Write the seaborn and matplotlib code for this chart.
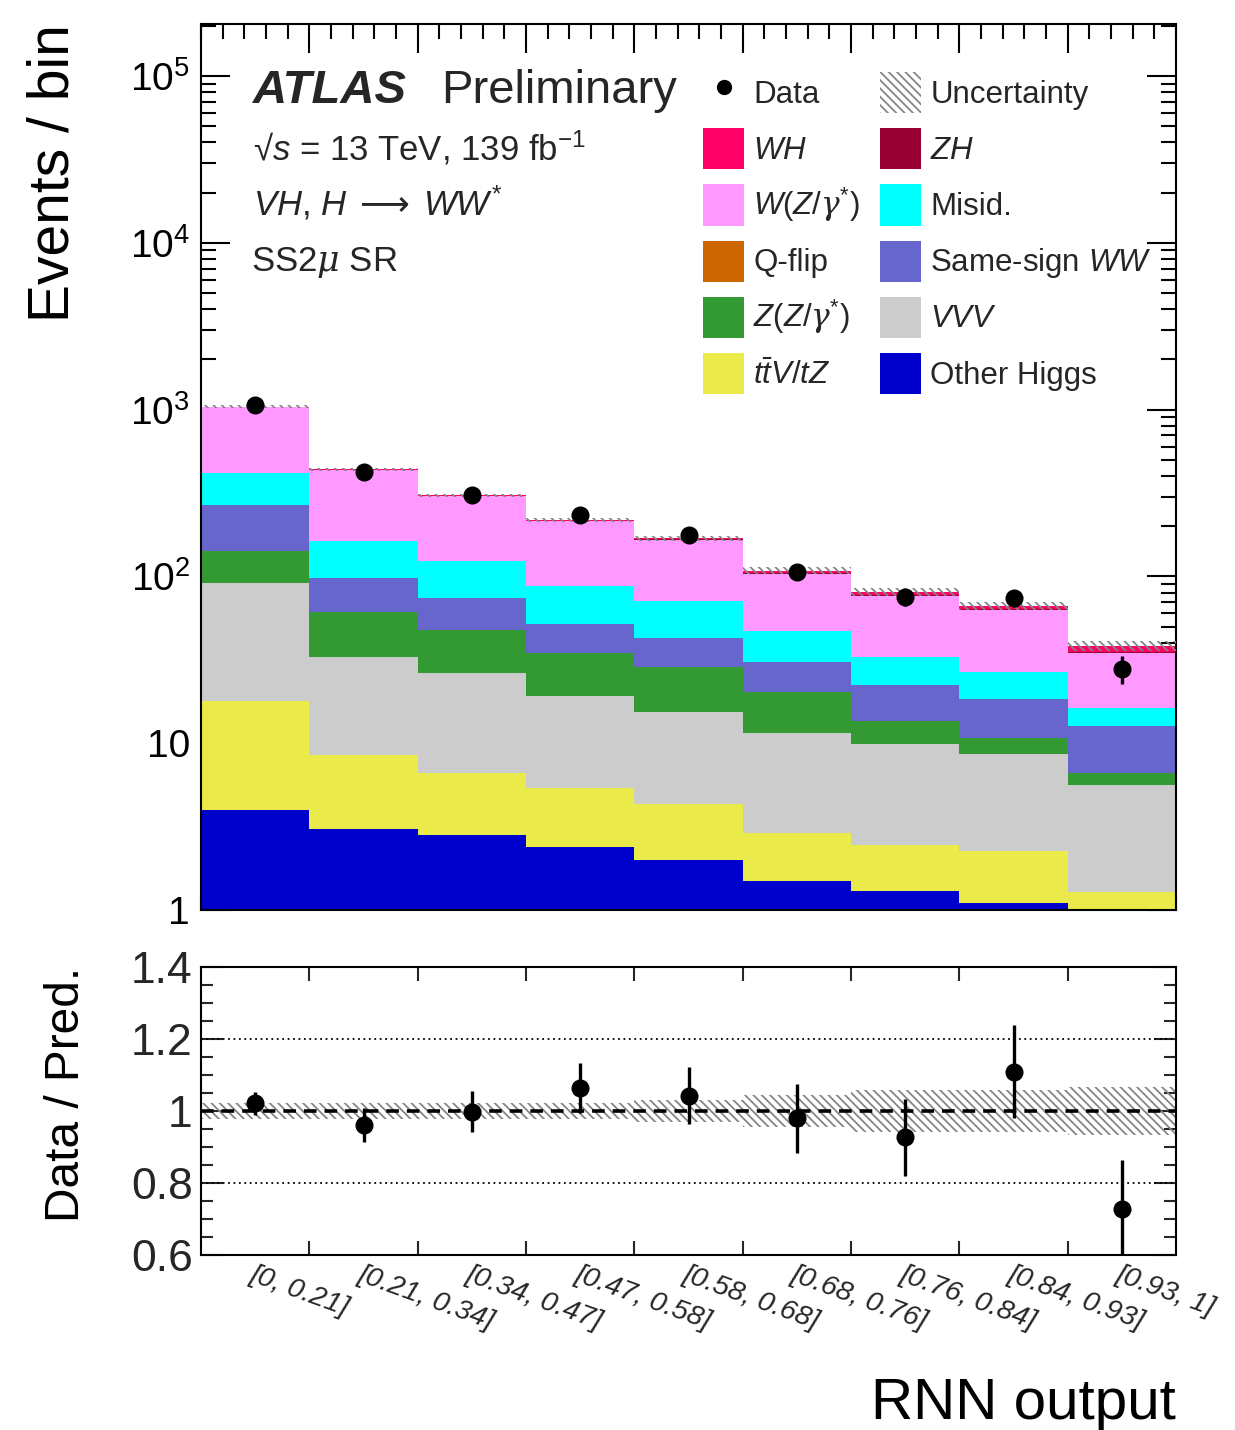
import numpy as np
import pandas as pd
import matplotlib
matplotlib.use("Agg")
import matplotlib.pyplot as plt
from matplotlib.patches import Patch
from matplotlib.lines import Line2D
from matplotlib.ticker import FixedLocator, LogLocator, NullFormatter, FuncFormatter, MultipleLocator
import seaborn as sns

# ---- binning of the RNN output (equal-width display bins) ----
bin_labels = ["[0, 0.21]", "[0.21, 0.34]", "[0.34, 0.47]", "[0.47, 0.58]", "[0.58, 0.68]",
              "[0.68, 0.76]", "[0.76, 0.84]", "[0.84, 0.93]", "[0.93, 1]"]

# ---- expected events per bin for each process ----
other_higgs = [4.0, 3.07, 2.80, 2.38, 1.99, 1.49, 1.30, 1.10, 0.60]
ttv_tz      = [13.9, 5.43, 3.80, 3.03, 2.33, 1.42, 1.14, 1.16, 0.68]
vvv         = [73.4, 24.2, 19.8, 13.9, 11.1, 8.56, 7.41, 6.35, 4.34]
z_zgamma    = [50.7, 28.5, 21.3, 15.3, 13.3, 8.93, 3.74, 2.09, 1.04]
q_flip      = [0.0, 0.0, 0.0, 0.0, 0.0, 0.0, 0.0, 0.0, 0.0]
ss_ww       = [126.0, 36.6, 26.5, 17.2, 14.0, 10.1, 8.7, 7.79, 6.07]
misid       = [149.0, 65.2, 49.5, 35.8, 28.5, 16.6, 10.4, 8.1, 3.46]
w_zgamma    = [620.0, 271.5, 179.7, 127.2, 94.8, 56.3, 43.9, 36.3, 18.5]
zh          = [1.0, 0.8, 0.7, 0.6, 0.5, 0.8, 0.9, 0.8, 0.6]
wh          = [3.0, 2.5, 2.5, 2.6, 2.3, 4.0, 3.4, 3.0, 3.2]

# ---- observed events and relative total uncertainty on the prediction ----
data_counts = [1063, 421, 306, 232, 176, 106, 75, 74, 28]
rel_unc     = [0.022, 0.023, 0.023, 0.023, 0.030, 0.045, 0.058, 0.058, 0.067]

# ---- process definitions (top of stack first) ----
processes = [
    ("$WH$", wh, "#ff0066"),
    ("$ZH$", zh, "#990033"),
    ("$W(Z/\\mathsf{\\gamma}^{*})$", w_zgamma, "#ff99ff"),
    ("Misid.", misid, "#00ffff"),
    ("Q-flip", q_flip, "#cc6600"),
    ("Same-sign $WW$", ss_ww, "#6666cc"),
    ("$Z(Z/\\mathsf{\\gamma}^{*})$", z_zgamma, "#339933"),
    ("$VVV$", vvv, "#cccccc"),
    ("$t\\bar{t}V/tZ$", ttv_tz, "#eaea4a"),
    ("Other Higgs", other_higgs, "#0000cc"),
]

nbins = len(bin_labels)
edges = np.arange(nbins + 1)
centers = edges[:-1] + 0.5

rows = []
for name, vals, _ in processes:
    for c, v in zip(centers, vals):
        rows.append({"bin": c, "events": v, "process": name})
df = pd.DataFrame(rows)
hue_order = [p[0] for p in processes]
palette = {p[0]: p[2] for p in processes}

total = np.sum([np.array(p[1]) for p in processes], axis=0)
data = np.array(data_counts, dtype=float)
unc = np.array(rel_unc)
ratio = data / total
ratio_err = np.sqrt(data) / total

# ---- style ----
sns.set_theme(style="ticks")
plt.rcParams["font.family"] = ["Liberation Sans", "DejaVu Sans"]
plt.rcParams["mathtext.fontset"] = "custom"
plt.rcParams["mathtext.rm"] = "Liberation Sans"
plt.rcParams["mathtext.it"] = "Liberation Sans:italic"
plt.rcParams["mathtext.bf"] = "Liberation Sans:bold"
plt.rcParams["mathtext.sf"] = "DejaVu Serif:italic"   # Greek letters in TeX-like italic
plt.rcParams["mathtext.cal"] = "DejaVu Sans"          # long arrow
plt.rcParams["hatch.linewidth"] = 1.3
plt.rcParams["axes.linewidth"] = 1.5

HATCH = "\\\\\\\\"
HATCH_COLOR = "#858585"

fig = plt.figure(figsize=(12.35, 14.3), dpi=100)
ax = fig.add_axes([0.1628, 0.36364, 0.78947, 0.61958])
ax2 = fig.add_axes([0.1628, 0.12238, 0.78947, 0.20140])

# ---- main panel: stacked prediction ----
sns.histplot(data=df, x="bin", weights="events", hue="process", hue_order=hue_order,
             palette=palette, multiple="stack", bins=[float(e) for e in edges],
             element="step", fill=True, linewidth=0, alpha=1, legend=False, ax=ax)

ax.bar(centers, 2 * unc * total, bottom=total * (1 - unc), width=1.0,
       facecolor="none", edgecolor=HATCH_COLOR, hatch=HATCH, linewidth=0, zorder=3)
ax.errorbar(centers, data, yerr=np.sqrt(data), fmt="o", color="black", ms=12,
            elinewidth=2.4, capsize=0, zorder=5)

ax.set_yscale("log")
ax.set_xlim(0, nbins)
ax.set_ylim(1, 2.05e5)

def log_label(v, pos):
    if np.isclose(v, 1):
        return "1"
    if np.isclose(v, 10):
        return "10"
    return "$10^{%d}$" % int(round(np.log10(v)))

ax.yaxis.set_major_locator(FixedLocator([1, 10, 1e2, 1e3, 1e4, 1e5]))
ax.yaxis.set_major_formatter(FuncFormatter(log_label))
ax.yaxis.set_minor_locator(LogLocator(base=10, subs=np.arange(2, 10), numticks=100))
ax.yaxis.set_minor_formatter(NullFormatter())
ax.xaxis.set_major_locator(FixedLocator(edges[1:-1]))
ax.xaxis.set_minor_locator(MultipleLocator(0.2))
ax.tick_params(axis="both", which="both", direction="in", top=True, right=True,
               labelbottom=False, width=1.5, colors="black")
ax.tick_params(axis="both", which="major", length=21)
ax.tick_params(axis="both", which="minor", length=11)
ax.tick_params(axis="y", which="major", labelsize=28, pad=8)
ax.set_xlabel("")
ax.set_ylabel("Events / bin", fontsize=41, loc="top", color="black")
ax.yaxis.set_label_coords(-0.124, 1.0)
for s in ax.spines.values():
    s.set_visible(True)
    s.set_color("black")

# ---- labels ----
ax.text(0.0533, 0.911, "ATLAS", transform=ax.transAxes, fontsize=34,
        fontweight="bold", style="italic", va="baseline", ha="left")
ax.text(0.2462, 0.911, "Preliminary", transform=ax.transAxes, fontsize=34,
        va="baseline", ha="left")
ax.text(0.0533, 0.8465, "\u221a$s$ = 13 TeV, 139 fb$^{-1}$", transform=ax.transAxes,
        fontsize=25, va="baseline", ha="left")
ax.text(0.0533, 0.7844, "$VH$, $H\\;\\mathcal{\\longrightarrow}\\;WW^{*}$",
        transform=ax.transAxes, fontsize=25, va="baseline", ha="left")
ax.text(0.051, 0.7212, "SS2$\\mathsf{\\mu}$ SR", transform=ax.transAxes,
        fontsize=25, va="baseline", ha="left")

# ---- legend ----
pmap = {p[0]: p[2] for p in processes}
h_data = Line2D([], [], marker="o", color="black", ls="none", ms=10)
h_unc = Patch(facecolor="white", edgecolor=HATCH_COLOR, hatch=HATCH, linewidth=0)
col1 = ["$WH$", "$W(Z/\\mathsf{\\gamma}^{*})$", "Q-flip", "$Z(Z/\\mathsf{\\gamma}^{*})$",
        "$t\\bar{t}V/tZ$"]
col2 = ["$ZH$", "Misid.", "Same-sign $WW$", "$VVV$", "Other Higgs"]
handles = [h_data] + [Patch(facecolor=pmap[n], linewidth=0) for n in col1] + \
          [h_unc] + [Patch(facecolor=pmap[n], linewidth=0) for n in col2]
labels = ["Data"] + col1 + ["Uncertainty"] + col2
ax.legend(handles, labels, ncol=2, loc="upper left", bbox_to_anchor=(0.5149, 0.9458),
          frameon=False, fontsize=22.5, handlelength=1.31, handleheight=1.65,
          handletextpad=0.3, labelspacing=0.48, columnspacing=0.64,
          borderpad=0, borderaxespad=0)

# ---- ratio panel ----
ax2.bar(centers, 2 * unc, bottom=1 - unc, width=1.0, facecolor="none",
        edgecolor=HATCH_COLOR, hatch=HATCH, linewidth=0, zorder=2)
ax2.axhline(1.0, color="black", lw=2.6, ls=(0, (3.5, 2.2)), zorder=3)
for lvl in (0.8, 1.2):
    ax2.axhline(lvl, color="black", lw=1.3, ls=(0, (1, 2)), zorder=1)
ax2.errorbar(centers, ratio, yerr=ratio_err, fmt="o", color="black", ms=12,
             elinewidth=2.4, capsize=0, zorder=5, clip_on=True)
ax2.set_xlim(0, nbins)
ax2.set_ylim(0.6, 1.4)
ax2.yaxis.set_major_locator(FixedLocator([0.6, 0.8, 1.0, 1.2, 1.4]))
ax2.yaxis.set_major_formatter(FuncFormatter(lambda v, p: "%g" % round(v, 2)))
ax2.yaxis.set_minor_locator(MultipleLocator(0.05))
ax2.xaxis.set_major_locator(FixedLocator(edges[1:-1]))
ax2.xaxis.set_major_formatter(NullFormatter())
ax2.set_xticks(centers, minor=True)
ax2.set_xticklabels(bin_labels, minor=True, rotation=-20, ha="left", va="top",
                    rotation_mode="anchor", fontsize=20.5, style="italic")
ax2.tick_params(axis="x", which="minor", length=0, pad=5)
ax2.tick_params(axis="x", which="major", direction="in", top=True, bottom=True,
                length=10, width=1.5)
ax2.tick_params(axis="y", which="major", direction="in", left=True, right=True,
                length=16, width=1.5, labelsize=32, pad=6)
ax2.tick_params(axis="y", which="minor", direction="in", left=True, right=True,
                length=8.5, width=1.5)
ax2.set_ylabel("Data / Pred.", fontsize=34.5, loc="top", color="black")
ax2.yaxis.set_label_coords(-0.115, 1.0)
ax2.set_xlabel("RNN output", fontsize=42, loc="right", color="black")
ax2.xaxis.set_label_coords(1.0, -0.425)
for s in ax2.spines.values():
    s.set_visible(True)
    s.set_color("black")

fig.savefig("out.png", dpi=100)
